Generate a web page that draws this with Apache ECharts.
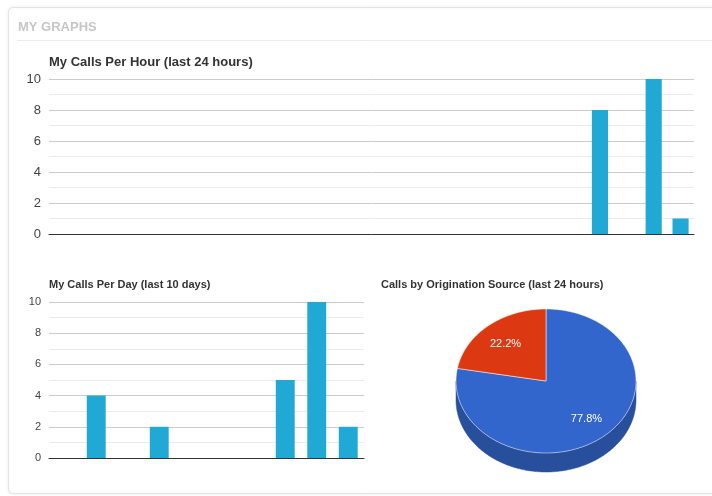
<!DOCTYPE html>
<html><head><meta charset="utf-8">
<script src="https://cdn.jsdelivr.net/npm/echarts@6/dist/echarts.min.js"></script>
<style>html,body{margin:0;padding:0;background:#fff}#c{width:712px;height:496px}</style>
</head><body><div id="c"></div>
<script>
// ---- data ----
const hourCategories = ['0','1','2','3','4','5','6','7','8','9','10','11','12','13','14','15','16','17','18','19','20','21','22','23'];
const hourValues = [0,0,0,0,0,0,0,0,0,0,0,0,0,0,0,0,0,0,0,0,8,0,10,1];
const dayCategories = ['1','2','3','4','5','6','7','8','9','10'];
const dayValues = [0,4,0,2,0,0,0,5,10,2];
const yTicks = [0,2,4,6,8,10];
const sourceNames = ['Source A','Source B'];
const sourceValues = [77.8,22.2];
const sourceColors = ['#3366cc','#dc3912'];
const sourceSideColors = ['#284f9c','#a92c0e'];

const FONT = 'Liberation Sans, Arial, sans-serif';
const chart = echarts.init(document.getElementById('c'));
const total = sourceValues.reduce((a,b)=>a+b,0);

function yAxis(gridIndex, fs){
  return {
    type:'value', gridIndex, min:yTicks[0], max:yTicks[yTicks.length-1], interval:2,
    axisLine:{show:false}, axisTick:{show:false},
    axisLabel:{color:'#444', fontSize:fs, fontFamily:FONT, margin:8},
    splitLine:{lineStyle:{color:'#cccccc'}},
    minorTick:{show:false, splitNumber:2},
    minorSplitLine:{show:true, lineStyle:{color:'#ebebeb'}}
  };
}
function xAxis(gridIndex, cats){
  return {
    type:'category', gridIndex, data:cats,
    axisLine:{lineStyle:{color:'#333', width:1}}, axisTick:{show:false},
    axisLabel:{show:false}, splitLine:{show:false}
  };
}

// pie geometry
const PCX=546, PCY=381, PRX=90, PRY=72, PD=19;
function pt(theta, dy){ // theta degrees clockwise from 12 o'clock
  const r = theta*Math.PI/180;
  return [PCX + PRX*Math.sin(r), PCY - PRY*Math.cos(r) + (dy||0)];
}
function renderPie(params, api){
  const i = params.dataIndex;
  let start = 0;
  for (let k=0;k<i;k++) start += sourceValues[k];
  const a0 = start/total*360, a1 = (start+sourceValues[i])/total*360;
  const children = [];
  const top = [[PCX,PCY]];
  for (let t=a0; t<=a1; t+=1) top.push(pt(t));
  top.push(pt(a1));
  const s0 = Math.max(a0,90), s1 = Math.min(a1,270);
  if (s1 > s0){
    const side=[];
    for (let t=s0;t<=s1;t+=1) side.push(pt(t));
    side.push(pt(s1));
    for (let t=s1;t>=s0;t-=1) side.push(pt(t,PD));
    side.push(pt(s0,PD));
    children.push({type:'polygon', z2:1, shape:{points:side}, style:{fill:sourceSideColors[i], stroke:sourceSideColors[i], lineWidth:0.5}});
  }
  children.push({type:'polygon', z2:10, shape:{points:top}, style:{fill:sourceColors[i], stroke:'#ffffff', lineWidth:0.5}});
  const mid = (a0+a1)/2;
  const r = mid*Math.PI/180;
  const lp = [PCX + 0.7*PRX*Math.sin(r), PCY - 0.68*PRY*Math.cos(r)];
  children.push({type:'text', z2:20, x:lp[0], y:lp[1], style:{text:(api.value(0)/total*100).toFixed(1)+'%', fill:'#fff', fontSize:11, fontFamily:FONT, align:'center', verticalAlign:'middle'}});
  return {type:'group', children};
}

chart.setOption({
  animation:false,
  graphic:[
    {type:'rect', z:-10, shape:{x:8.5,y:7.5,width:740,height:486,r:4}, style:{fill:'#fff', stroke:'#e3e3e3', lineWidth:1, shadowBlur:4, shadowColor:'rgba(0,0,0,0.08)'}},
    {type:'line', z:-9, shape:{x1:17,y1:40.5,x2:712,y2:40.5}, style:{stroke:'#ececec', lineWidth:1}},
    {type:'text', left:18, top:21, style:{text:'MY GRAPHS', fill:'#c6c6c6', font:'bold 13px '+FONT}}
  ],
  title:[
    {text:'My Calls Per Hour (last 24 hours)', left:49, top:56, padding:0, textStyle:{fontSize:13, fontWeight:'bold', color:'#333', fontFamily:FONT}},
    {text:'My Calls Per Day (last 10 days)', left:49, top:279, padding:0, textStyle:{fontSize:11, fontWeight:'bold', color:'#333', fontFamily:FONT}},
    {text:'Calls by Origination Source (last 24 hours)', left:381, top:279, padding:0, textStyle:{fontSize:11, fontWeight:'bold', color:'#333', fontFamily:FONT}}
  ],
  grid:[
    {left:49, top:79, width:645, height:155},
    {left:49, top:302, width:315, height:156}
  ],
  xAxis:[xAxis(0,hourCategories), xAxis(1,dayCategories)],
  yAxis:[yAxis(0,13), yAxis(1,11)],
  series:[
    {type:'bar', xAxisIndex:0, yAxisIndex:0, data:hourValues, barCategoryGap:'40%', itemStyle:{color:'#21a9d6'}},
    {type:'bar', xAxisIndex:1, yAxisIndex:1, data:dayValues, barCategoryGap:'40%', itemStyle:{color:'#21a9d6'}},
    {type:'custom', coordinateSystem:'none', renderItem:renderPie,
      data:sourceValues.map((v,i)=>({name:sourceNames[i], value:[v]}))}
  ]
});
</script></body></html>
